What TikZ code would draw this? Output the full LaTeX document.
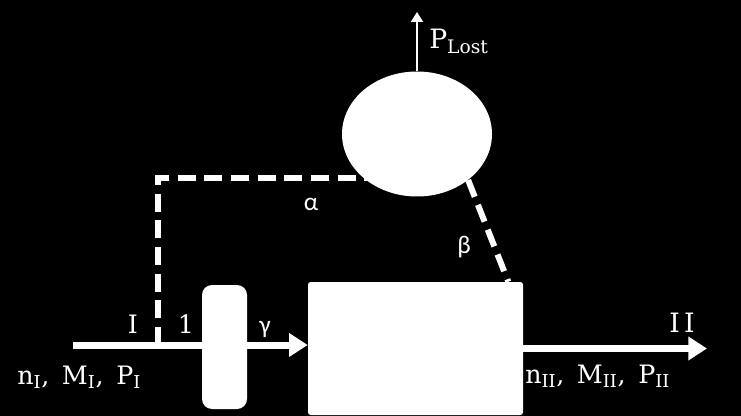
\documentclass[tikz,border=0pt]{standalone}
\usepackage{fontspec}
\setmainfont{DejaVu Serif}
\newfontfamily\greekfont{Carlito}
\usetikzlibrary{arrows.meta,shapes.geometric}

\begin{document}
\begin{tikzpicture}[x=0.75pt, y=-0.75pt,
    flow/.style={draw=white, line width=5.25pt, -{Triangle[length=14pt,width=17pt]}},
    link/.style={draw=white, line width=4.5pt, dash pattern=on 13.5pt off 6.5pt},
    lbl/.style={text=white, inner sep=0pt, font=\fontsize{19}{21}\selectfont},
    glbl/.style={text=white, inner sep=0pt, font=\greekfont\fontsize{19}{21}\selectfont}]
            % Background
            \fill[black] (0,0) rectangle (741,416);
            \useasboundingbox (0,0) rectangle (741,416);

            % Units
            \node[ellipse, fill=white, inner sep=0pt, minimum width=112.5pt, minimum height=93.75pt] (loss) at (417,134) {};
            \node[rectangle, fill=white, rounded corners=2pt, minimum width=161.25pt, minimum height=99.75pt] (reactor) at (415.5,348.5) {};

            % Streams
            \coordinate (in) at (73,345);
            \coordinate (tap) at (158,345);
            \coordinate (corner) at (158,178);
            \coordinate (out) at (707,348.5);
            \coordinate (lost) at (417,12);
            \draw[flow] (in) -- (in -| reactor.west);
            \draw[flow] (reactor.east) -- (out);
            \draw[draw=white, line width=1.5pt, -{Triangle[length=7.5pt,width=9pt]}] (loss.north) -- (lost);

            % Splits
            \draw[link] (tap) -- (corner) -- (corner -| loss.center);
            \draw[link] (loss.-42) -- ([xshift=-11.25pt]reactor.north east);

            % Valve
            \node[rectangle, fill=white, rounded corners=7.5pt, minimum width=33.75pt, minimum height=93pt] (valve) at (224.5,347) {};

            % Labels
            \node[lbl, anchor=base west] (feed) at (17,384) {n\textsubscript{I},\enspace M\textsubscript{I},\enspace P\textsubscript{I}};
            \node[lbl, anchor=base west] (prod) at (525,383) {n\textsubscript{II},\enspace M\textsubscript{II},\enspace P\textsubscript{II}};
            \node[lbl, anchor=base] (inI) at (133,333) {I};
            \node[lbl, anchor=base] (one) at (186,333) {1};
            \node[lbl, anchor=base, font=\fontsize{20}{22}\selectfont] (outII) at (682,332) {I\,I};
            \node[glbl, anchor=base] (gam) at (265,333) {γ};
            \node[glbl, anchor=base] (alp) at (311,211) {α};
            \node[glbl, anchor=base] (bet) at (464,253) {β};
            \node[lbl, anchor=base west, font=\fontsize{20}{22}\selectfont] (plost) at (429,49) {P\textsubscript{Lost}};
        
        \end{tikzpicture}
\end{document}
